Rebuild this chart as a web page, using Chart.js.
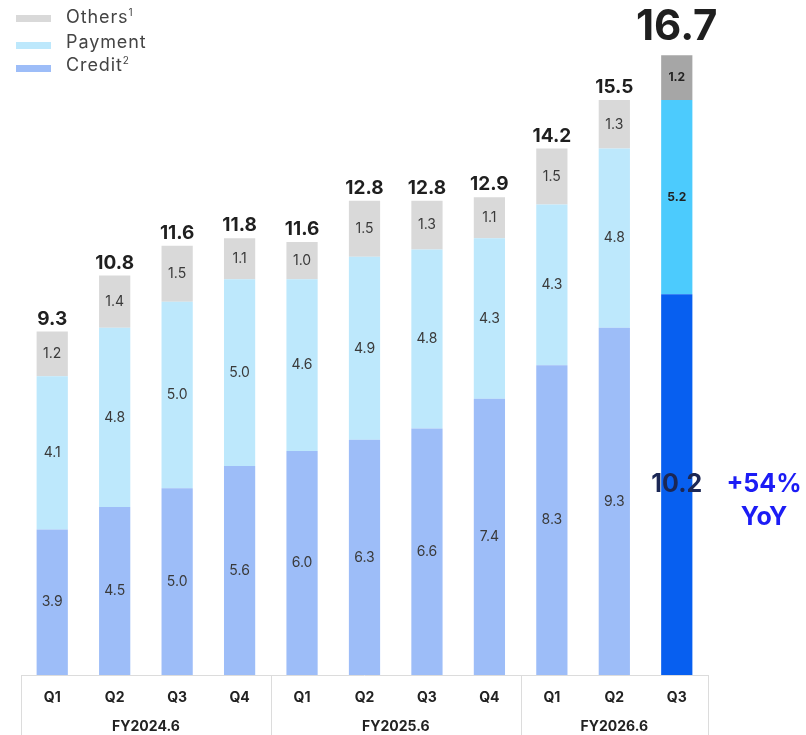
<!DOCTYPE html>
<html>
<head>
<meta charset="utf-8">
<script src="https://cdn.jsdelivr.net/npm/chart.js@4/dist/chart.umd.min.js"></script>
<style>
  body { margin: 0; background: #fff; }
  #wrap { position: relative; width: 806px; height: 735px; }
  .legend { position: absolute; left: 0; top: 0; font-family: Inter, sans-serif; font-size: 18px; letter-spacing: 0.9px; color: #444; }
  .legend div { position: absolute; white-space: nowrap; }
  .legend .sw { width: 35px; height: 7px; }
  sup { font-size: 10px; }
</style>
</head>
<body>
<div id="wrap">
  <canvas id="c" width="806" height="735"></canvas>
  <div class="legend">
    <div class="sw" style="left:16px;top:15px;background:#d9d9d9"></div>
    <div style="left:66px;top:6px">Others<sup>1</sup></div>
    <div class="sw" style="left:16px;top:42px;background:#bde8fc"></div>
    <div style="left:66px;top:31px">Payment</div>
    <div class="sw" style="left:16px;top:65px;background:#9dbdf8"></div>
    <div style="left:66px;top:54px">Credit<sup>2</sup></div>
  </div>
</div>
<script>
const quarters = ['Q1','Q2','Q3','Q4','Q1','Q2','Q3','Q4','Q1','Q2','Q3'];
const fiscalYears = ['FY2024.6','FY2025.6','FY2026.6'];
const yearSizes = [4, 4, 3];
const credit  = [3.9, 4.5, 5.0, 5.6, 6.0, 6.3, 6.6, 7.4, 8.3, 9.3, 10.2];
const payment = [4.1, 4.8, 5.0, 5.0, 4.6, 4.9, 4.8, 4.3, 4.3, 4.8, 5.2];
const others  = [1.2, 1.4, 1.5, 1.1, 1.0, 1.5, 1.3, 1.1, 1.5, 1.3, 1.2];
const totals  = [9.3, 10.8, 11.6, 11.8, 11.6, 12.8, 12.8, 12.9, 14.2, 15.5, 16.7];
const yoyText = ['+54%', 'YoY'];

const FONT = 'Inter, sans-serif';
const last = quarters.length - 1;
const colorsFor = (normal, hi) => quarters.map((q, i) => i === last ? hi : normal);

const labelsPlugin = {
  id: 'labels',
  afterDatasetsDraw(chart) {
    const ctx = chart.ctx;
    ctx.save();
    ctx.textAlign = 'center';
    ctx.textBaseline = 'middle';
    chart.data.datasets.forEach((ds, di) => {
      const meta = chart.getDatasetMeta(di);
      meta.data.forEach((bar, i) => {
        const y = (bar.y + bar.base) / 2;
        if (i === last) {
          if (di === 0) {
            ctx.font = 'bold 25px ' + FONT;
            ctx.fillStyle = '#1b2755';
          } else {
            ctx.font = 'bold 12px ' + FONT;
            ctx.fillStyle = '#222';
          }
        } else {
          ctx.font = '14px ' + FONT;
          ctx.fillStyle = '#3a3a3a';
        }
        ctx.fillText(ds.data[i].toFixed(1), bar.x, y);
      });
    });
    // totals
    const topMeta = chart.getDatasetMeta(2);
    ctx.textBaseline = 'alphabetic';
    ctx.fillStyle = '#1f1f1f';
    topMeta.data.forEach((bar, i) => {
      if (i === last) {
        ctx.font = 'bold 42px ' + FONT;
        ctx.fillText(totals[i].toFixed(1), bar.x, bar.y - 15);
      } else {
        ctx.font = 'bold 19px ' + FONT;
        ctx.fillText(totals[i].toFixed(1), bar.x, bar.y - 7);
      }
    });
    // YoY
    ctx.fillStyle = '#1c1cf5';
    ctx.font = 'bold 25px ' + FONT;
    ctx.textBaseline = 'middle';
    ctx.fillText(yoyText[0], 764, 484);
    ctx.fillText(yoyText[1], 764, 517);

    // bottom axis box
    const x = chart.scales.x;
    const area = chart.chartArea;
    const step = x.getPixelForValue(1) - x.getPixelForValue(0);
    ctx.strokeStyle = '#dcdcdc';
    ctx.lineWidth = 1;
    ctx.beginPath();
    ctx.moveTo(area.left, area.bottom + 0.5);
    ctx.lineTo(area.right, area.bottom + 0.5);
    let idx = 0;
    const edges = [area.left];
    yearSizes.forEach(n => { idx += n; edges.push(x.getPixelForValue(idx - 1) + step / 2); });
    edges.forEach(ex => {
      ctx.moveTo(Math.round(ex) + 0.5, area.bottom);
      ctx.lineTo(Math.round(ex) + 0.5, chart.height);
    });
    ctx.stroke();

    ctx.fillStyle = '#222';
    ctx.font = 'bold 14px ' + FONT;
    quarters.forEach((q, i) => ctx.fillText(q, x.getPixelForValue(i), 698));
    fiscalYears.forEach((fy, k) => ctx.fillText(fy, (edges[k] + edges[k + 1]) / 2, 727));
    ctx.restore();
  }
};

new Chart(document.getElementById('c'), {
  type: 'bar',
  data: {
    labels: quarters,
    datasets: [
      { label: 'Credit', data: credit, backgroundColor: colorsFor('#9dbdf8', '#075ff0') },
      { label: 'Payment', data: payment, backgroundColor: colorsFor('#bde8fc', '#4ccbfd') },
      { label: 'Others', data: others, backgroundColor: colorsFor('#d9d9d9', '#a6a6a6') }
    ]
  },
  options: {
    responsive: false,
    animation: false,
    events: [],
    layout: { padding: { top: 3, bottom: 60, left: 21, right: 98 } },
    datasets: { bar: { categoryPercentage: 1, barPercentage: 0.5 } },
    plugins: { legend: { display: false }, tooltip: { enabled: false } },
    scales: {
      x: { stacked: true, display: false },
      y: { stacked: true, display: false, min: 0, max: 18 }
    }
  },
  plugins: [labelsPlugin]
});
</script>
</body>
</html>
